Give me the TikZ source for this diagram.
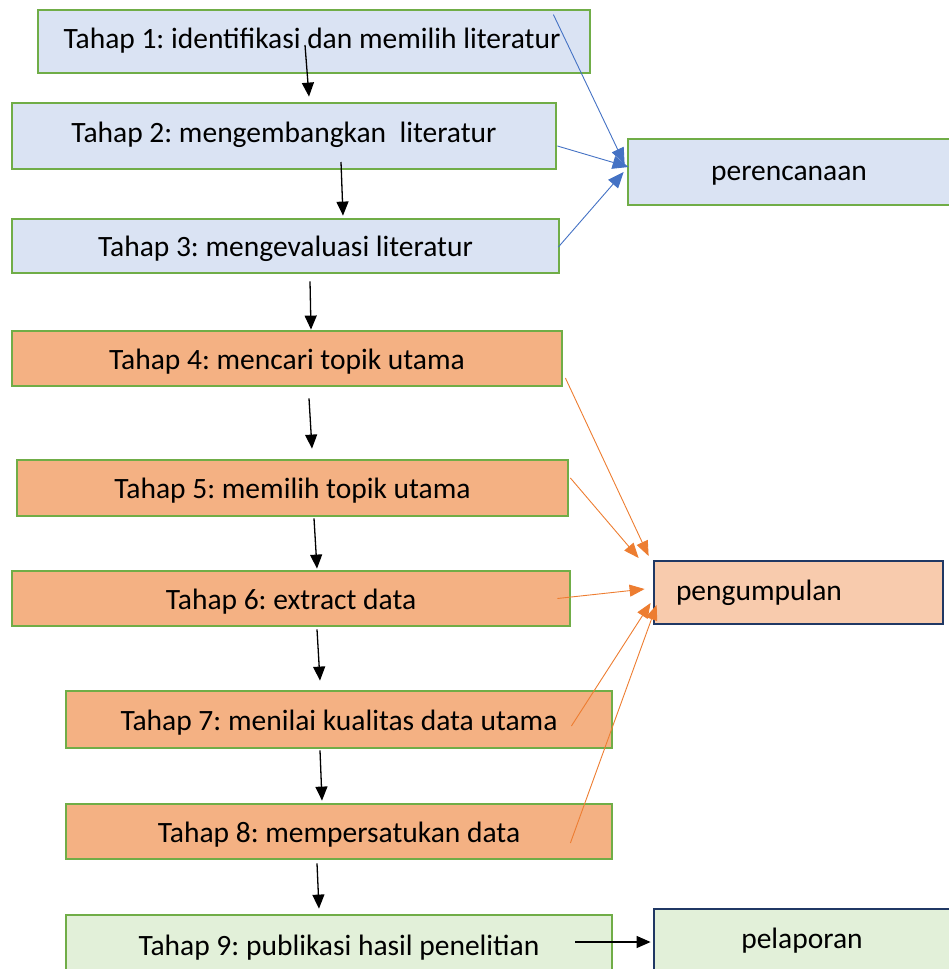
\documentclass[tikz,border=0pt]{standalone}
\usepackage{fontspec}
\setmainfont{Carlito}
\frenchspacing
\usetikzlibrary{arrows.meta,calc}
\definecolor{bfill}{HTML}{DAE3F3}
\definecolor{gline}{HTML}{70AD47}
\definecolor{ofill}{HTML}{F4B183}
\definecolor{pfill}{HTML}{F8CBAD}
\definecolor{navy}{HTML}{203864}
\definecolor{lgfill}{HTML}{E2F0D9}
\definecolor{bline}{HTML}{4472C4}
\definecolor{oline}{HTML}{ED7D31}
\tikzset{
  box/.style={draw, line width=2.8pt, inner sep=0pt, font=\fontsize{29.5}{35}\selectfont, text height=21.5pt, text depth=7pt},
  low/.style={text height=28pt},
  bluebox/.style={box, draw=gline, fill=bfill},
  orangebox/.style={box, draw=gline, fill=ofill},
  greenbox/.style={box, draw=gline, fill=lgfill},
  navybox/.style={box, draw=navy},
  blk/.style={-{Triangle[length=14pt,width=12pt]}, line width=1.3pt, black},
  blu/.style={-{Triangle[length=16pt,width=13pt]}, line width=0.9pt, bline},
  org/.style={-{Triangle[length=15pt,width=12pt]}, line width=0.9pt, oline}
}
\begin{document}
\begin{tikzpicture}[x=1pt,y=-1pt]
\useasboundingbox (0,0) rectangle (948,969);
% left column
\node[bluebox, minimum width=552, minimum height=63] (t1) at (314,41.5) {\hspace*{-4pt}Tahap 1: identifikasi dan memilih literatur};
\node[bluebox, minimum width=544, minimum height=66, text height=20pt] (t2) at (284,136) {Tahap 2: mengembangkan\ \ literatur};
\node[bluebox, low, minimum width=547, minimum height=54] (t3) at (285.5,246) {Tahap 3: mengevaluasi literatur};
\node[orangebox, low, minimum width=550, minimum height=55] (t4) at (287,358.5) {Tahap 4: mencari topik utama};
\node[orangebox, low, minimum width=551, minimum height=56] (t5) at (292.5,488) {Tahap 5: memilih topik utama};
\node[orangebox, low, minimum width=558, minimum height=55] (t6) at (291,598.5) {Tahap 6: extract data};
\node[orangebox, low, minimum width=546, minimum height=57] (t7) at (339,719.5) {Tahap 7: menilai kualitas data utama};
\node[orangebox, low, minimum width=546, minimum height=55] (t8) at (339,831.5) {Tahap 8: mempersatukan data};
\node[greenbox, low, minimum width=546, minimum height=60] (t9) at (339,945) {Tahap 9: publikasi hasil penelitian};
% right column
\node[bluebox, minimum width=322, minimum height=66, text height=23pt] (per) at (789,172) {perencanaan};
\node[navybox, fill=pfill, minimum width=289, minimum height=63, text width=245, align=left, text height=23pt] (pen) at (798.5,592.5) {pengumpulan};
\node[navybox, fill=lgfill, minimum width=296, minimum height=61, text height=24pt] (pel) at (802,939.5) {pelaporan};
% black flow arrows
\draw[blk] ($(t1.center)+(-9,3.5)$) -- ($(t2.north)+(25,-5)$);
\draw[blk] ($(t2.center)+(57,26)$) -- ($(t3.north)+(57.5,-2)$);
\draw[blk] ($(t3.south)+(24.5,7)$) -- ($(t4.north)+(24,0)$);
\draw[blk] ($(t4.south)+(22,11)$) -- ($(t5.north)+(19.5,-10)$);
\draw[blk] ($(t5.south)+(21.5,1)$) -- ($(t6.north)+(26,-1)$);
\draw[blk] ($(t6.south)+(26,2)$) -- ($(t7.north)+(-19,-9)$);
\draw[blk] ($(t7.south)+(-19,1)$) -- ($(t8.north)+(-17,-2)$);
\draw[blk] ($(t8.south)+(-22,3)$) -- ($(t9.north)+(-20,-5)$);
\draw[blk] ($(t9.center)+(236,-3)$) -- ($(pel.west)+(-2,2.5)$);
% blue arrows
\draw[blu] ($(t1.north east)+(-38,6)$) -- ($(per.west)+(-2,-8)$);
\draw[blu] ($(t2.east)+(0,10)$) -- ($(per.west)+(2,-5)$);
\draw[blu] ($(t3.east)+(-2,1)$) -- ($(per.west)+(-3,0)$);
% orange arrows
\draw[org] ($(t4.east)+(2,19.5)$) -- ($(pen.west)+(-4,-36.5)$);
\draw[org] ($(t5.east)+(1,-10)$) -- ($(pen.west)+(-14,-34.5)$);
\draw[org] ($(t6.east)+(-14,0)$) -- ($(pen.west)+(-8,-3.5)$);
\draw[org] ($(t7.east)+(-42,6.5)$) -- ($(pen.west)+(-2,10.5)$);
\draw[org] ($(t8.east)+(-43,11.5)$) -- ($(pen.west)+(4,12.5)$);
\end{tikzpicture}
\end{document}
